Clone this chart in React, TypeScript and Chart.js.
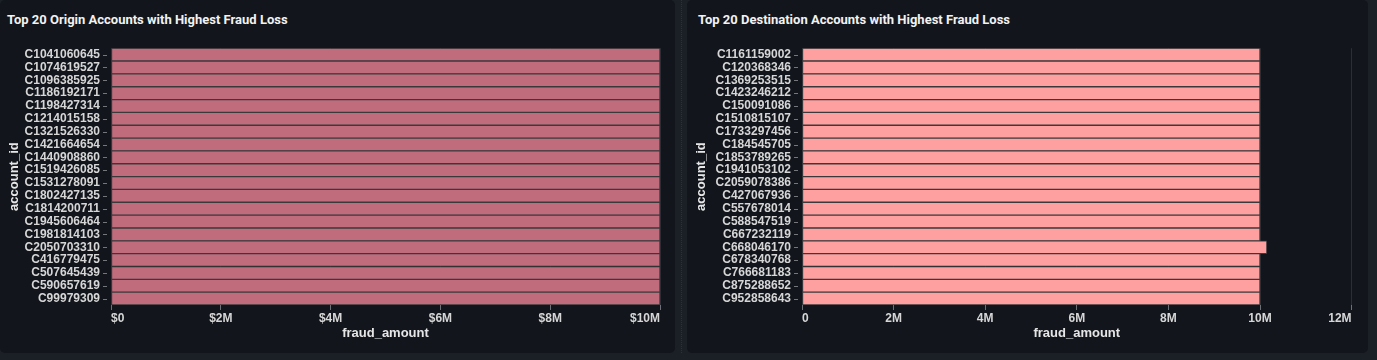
import React, { useEffect, useRef } from "react";
import { Chart, registerables } from "chart.js";

Chart.register(...registerables);

const originAccounts = [
  "C1041060645", "C1074619527", "C1096385925", "C1186192171", "C1198427314",
  "C1214015158", "C1321526330", "C1421664654", "C1440908860", "C1519426085",
  "C1531278091", "C1802427135", "C1814200711", "C1945606464", "C1981814103",
  "C2050703310", "C416779475", "C507645439", "C590657619", "C99979309",
];
const originFraudAmounts = [
  10000000, 10000000, 10000000, 10000000, 10000000,
  10000000, 10000000, 10000000, 10000000, 10000000,
  10000000, 10000000, 10000000, 10000000, 10000000,
  10000000, 10000000, 10000000, 10000000, 10000000,
];

const destAccounts = [
  "C1161159002", "C120368346", "C1369253515", "C1423246212", "C150091086",
  "C1510815107", "C1733297456", "C184545705", "C1853789265", "C1941053102",
  "C2059078386", "C427067936", "C557678014", "C588547519", "C667232119",
  "C668046170", "C678340768", "C766681183", "C875288652", "C952858643",
];
const destFraudAmounts = [
  10000000, 10000000, 10000000, 10000000, 10000000,
  10000000, 10000000, 10000000, 10000000, 10000000,
  10000000, 10000000, 10000000, 10000000, 10000000,
  10150000, 10000000, 10000000, 10000000, 10000000,
];

const originAxisMax = 10000000;
const destAxisMax = 12000000;
const axisStep = 2000000;

const fmtMoney = (v: number) => (v === 0 ? "$0" : "$" + v / 1e6 + "M");
const fmtPlain = (v: number) => (v === 0 ? "0" : v / 1e6 + "M");

const FONT = "'Liberation Sans', Arial, sans-serif";

const yTickDashes = {
  id: "yTickDashes",
  afterDraw(chart: any) {
    const y = chart.scales.y;
    const ctx = chart.ctx;
    const left = chart.chartArea.left;
    ctx.save();
    ctx.strokeStyle = "#74777c";
    ctx.lineWidth = 1;
    y.ticks.forEach((_: any, i: number) => {
      const p = Math.round(y.getPixelForTick(i)) + 0.5;
      ctx.beginPath();
      ctx.moveTo(left - 8, p);
      ctx.lineTo(left - 4, p);
      ctx.stroke();
    });
    ctx.restore();
  },
};

type PanelProps = {
  left: number;
  width: number;
  title: string;
  titleLeft: number;
  labels: string[];
  values: number[];
  color: string;
  max: number;
  fmt: (v: number) => string;
  plotLeft: number;
  padRight: number;
};

function Panel(p: PanelProps) {
  const ref = useRef<HTMLCanvasElement | null>(null);
  const canvasH = 323;

  useEffect(() => {
    if (!ref.current) return;
    const chart = new Chart(ref.current, {
      type: "bar",
      data: {
        labels: p.labels,
        datasets: [
          {
            data: p.values,
            backgroundColor: p.color,
            borderColor: "#3a3a3c",
            borderWidth: 1,
            borderSkipped: false,
            barPercentage: 1,
            categoryPercentage: 1,
          },
        ],
      },
      options: {
        indexAxis: "y",
        animation: false,
        responsive: false,
        devicePixelRatio: 1,
        layout: { padding: { top: 13.5, right: p.padRight, left: 0, bottom: 0 } },
        plugins: { legend: { display: false }, tooltip: { enabled: false } },
        scales: {
          x: {
            type: "linear",
            min: 0,
            max: p.max,
            ticks: {
              stepSize: axisStep,
              align: "inner",
              maxRotation: 0,
              autoSkip: false,
              padding: 1,
              color: "#d6d6d6",
              font: { family: FONT, size: 12, weight: "bold" },
              callback: (v: any) => p.fmt(Number(v)),
            },
            grid: {
              color: "#2b2f35",
              tickColor: "#6d7076",
              tickLength: 5,
              drawTicks: true,
            },
            border: { display: false },
            title: {
              display: true,
              text: "fraud_amount",
              color: "#e6e6e6",
              font: { family: FONT, size: 13, weight: "bold" },
              padding: { top: 0, bottom: 12 },
            },
            afterFit: (s: any) => {
              s.height = 48;
            },
          },
          y: {
            type: "category",
            ticks: {
              autoSkip: false,
              padding: 11,
              color: "#d6d6d6",
              font: { family: FONT, size: 12, weight: "bold" },
            },
            grid: { display: false, drawTicks: false },
            border: { display: false },
            title: {
              display: true,
              text: "account_id",
              color: "#e6e6e6",
              font: { family: FONT, size: 13, weight: "bold" },
              padding: { top: 7, bottom: 0 },
            },
            afterFit: (s: any) => {
              s.width = p.plotLeft;
            },
          },
        },
      } as any,
      plugins: [yTickDashes],
    });
    return () => chart.destroy();
  }, []);

  return (
    <div
      style={{
        position: "absolute",
        left: p.left,
        top: 0,
        width: p.width,
        height: 353,
        background: "#12161c",
        borderRadius: 5,
        overflow: "hidden",
      }}
    >
      <div
        style={{
          position: "absolute",
          left: p.titleLeft,
          top: 12,
          lineHeight: "16px",
          fontFamily: "Roboto, 'Open Sans', sans-serif",
          fontWeight: 700,
          fontSize: 13,
          color: "#f2f2f2",
          whiteSpace: "nowrap",
        }}
      >
        {p.title}
      </div>
      <canvas
        ref={ref}
        width={p.width}
        height={canvasH}
        style={{ position: "absolute", left: 0, top: 30, width: p.width, height: canvasH }}
      />
    </div>
  );
}

export default function App() {
  useEffect(() => {
    document.body.style.margin = "0";
    document.body.style.background = "#1b1f26";
  }, []);
  return (
    <div
      style={{
        position: "relative",
        width: 1377,
        height: 360,
        background: "#1b1f26",
        overflow: "hidden",
      }}
    >
      <Panel
        left={0}
        width={675}
        title="Top 20 Origin Accounts with Highest Fraud Loss"
        titleLeft={7}
        labels={originAccounts}
        values={originFraudAmounts}
        color="#c06c7c"
        max={originAxisMax}
        fmt={fmtMoney}
        plotLeft={111}
        padRight={15}
      />
      <div
        style={{
          position: "absolute",
          left: 681,
          top: 0,
          width: 0,
          height: 353,
          borderLeft: "1px dotted #2c3139",
        }}
      />
      <Panel
        left={687}
        width={681}
        title="Top 20 Destination Accounts with Highest Fraud Loss"
        titleLeft={11}
        labels={destAccounts}
        values={destFraudAmounts}
        color="#ffa0a0"
        max={destAxisMax}
        fmt={fmtPlain}
        plotLeft={115}
        padRight={16.4}
      />
    </div>
  );
}
